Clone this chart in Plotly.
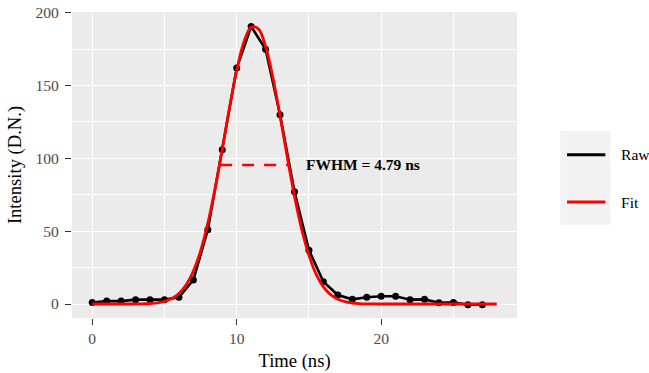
import plotly.graph_objects as go

# ---- data ----
raw_time = list(range(28))
raw_intensity = [1, 2, 2, 3, 3, 3, 4.6, 16.5, 51, 106, 162, 190.5, 175, 130, 77, 37,
                 15.3, 6.2, 3.2, 4.6, 5.3, 5.3, 3, 3.2, 0.9, 1.1, -0.5, -0.5]

fit_time = [i * 0.5 for i in range(57)]
fit_intensity = [0, 0, 0, 0, 0, 0, 0.05, 0.15, 0.36, 0.84, 1.83, 3.76, 7.27, 13.2,
                 22.7, 36.5, 55.4, 79.1, 106.4, 134.7, 160.5, 180.0, 190.1, 188.9,
                 176.8, 155.7, 129.1, 100.8, 74.1, 51.2, 33.4, 20.4, 11.8, 6.4, 3.3,
                 1.6, 0.7, 0.3, 0.12, 0.04, 0.01, 0, 0, 0, 0, 0, 0, 0, 0, 0, 0, 0,
                 0, 0, 0, 0, 0]

fwhm_time = [8.85, 13.64]
fwhm_level = [95.5, 95.5]
fwhm_label = "FWHM = 4.79 ns"
fwhm_label_pos = (14.67, 95.5)

x_ticks = [0, 10, 20]
y_ticks = [0, 50, 100, 150, 200]

SERIF = "Liberation Serif, Times New Roman, serif"

W, H = 649, 373
PL, PR, PT, PB = 72, 516.7, 12, 318.3

fig = go.Figure()
fig.add_trace(go.Scatter(x=raw_time, y=raw_intensity, mode="lines",
                         line=dict(color="black", width=2.6), name="Raw",
                         showlegend=False, hoverinfo="skip"))
fig.add_trace(go.Scatter(x=raw_time, y=raw_intensity, mode="markers",
                         marker=dict(color="black", size=7), showlegend=False))
fig.add_trace(go.Scatter(x=fit_time, y=fit_intensity, mode="lines",
                         line=dict(color="#FF0000", width=2.8, shape="spline", smoothing=1),
                         name="Fit", showlegend=False))
fig.add_trace(go.Scatter(x=fwhm_time, y=fwhm_level, mode="lines",
                         line=dict(color="#FF0000", width=2.6, dash="12px,10px"),
                         showlegend=False))

fig.add_annotation(x=fwhm_label_pos[0], y=fwhm_label_pos[1], text="<b>" + fwhm_label + "</b>",
                   showarrow=False, xanchor="left", yanchor="middle",
                   font=dict(family=SERIF, size=15.5, color="black"))

# ---- manual ggplot-style legend (page pixel positions) ----
def px(xp): return (xp - PL) / (PR - PL)
def py(yp): return (PB - yp) / (PB - PT)

fig.add_shape(type="rect", xref="paper", yref="paper", x0=px(560), x1=px(610),
              y0=py(225), y1=py(131), fillcolor="#F2F2F2", line=dict(width=0), layer="below")
fig.add_shape(type="line", xref="paper", yref="paper", x0=px(566.7), x1=px(605),
              y0=py(155), y1=py(155), line=dict(color="black", width=3))
fig.add_shape(type="line", xref="paper", yref="paper", x0=px(566.7), x1=px(605),
              y0=py(202.3), y1=py(202.3), line=dict(color="#FF0000", width=3))
for label, ypos in (("Raw", 155), ("Fit", 202.3)):
    fig.add_annotation(xref="paper", yref="paper", x=px(619), y=py(ypos), text=label,
                       showarrow=False, xanchor="left", yanchor="middle",
                       font=dict(family=SERIF, size=15.6, color="black"))

axis_common = dict(
    showgrid=True, gridcolor="white", gridwidth=1.4,
    zeroline=False, showline=False, automargin=False,
    ticks="outside", ticklen=6, tickwidth=1.4, tickcolor="#333333",
    ticklabeloverflow="allow",
    tickfont=dict(family=SERIF, size=15.6, color="#4D4D4D"),
)

fig.update_xaxes(range=[-1.4, 29.4], tickvals=x_ticks,
                 minor=dict(dtick=5, tick0=0, showgrid=True, gridcolor="white", gridwidth=0.7),
                 title=dict(text="Time (ns)", font=dict(family=SERIF, size=18.6, color="black"),
                            standoff=8),
                 **axis_common)
fig.update_yaxes(range=[-9.6, 200.5], tickvals=y_ticks, ticklabelstandoff=3,
                 minor=dict(dtick=25, tick0=0, showgrid=True, gridcolor="white", gridwidth=0.7),
                 title=dict(text="Intensity (D.N.)", font=dict(family=SERIF, size=18.6, color="black"),
                            standoff=8),
                 **axis_common)

fig.update_layout(
    width=W, height=H,
    margin=dict(l=PL, r=W - PR, t=PT, b=H - PB, pad=0),
    plot_bgcolor="#EBEBEB", paper_bgcolor="white",
    showlegend=False,
)

fig.write_html("out.html", config={"displayModeBar": False},
               post_script="document.body.style.margin='0';document.body.style.overflow='hidden';")
